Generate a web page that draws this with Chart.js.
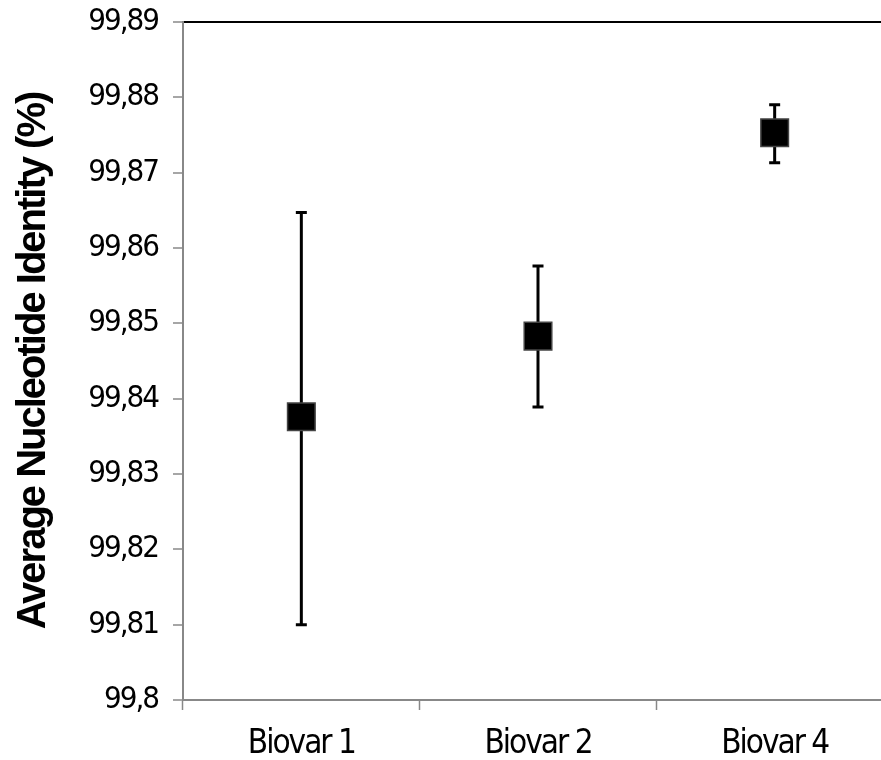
<!DOCTYPE html>
<html>
<head>
<meta charset="utf-8">
<script src="https://cdn.jsdelivr.net/npm/chart.js@4.4.0/dist/chart.umd.min.js"></script>
<style>
  html, body { margin: 0; padding: 0; background: #fff; overflow: hidden; }
</style>
</head>
<body>
<canvas id="myCanvas" width="881" height="760"></canvas>
<script>
const categories = ["Biovar 1", "Biovar 2", "Biovar 4"];
const meanIdentity = [99.8376, 99.8483, 99.8753];
const errorLow = [99.8100, 99.8389, 99.8713];
const errorHigh = [99.8647, 99.8576, 99.8790];
const yTickLabels = ["99,8", "99,81", "99,82", "99,83", "99,84", "99,85", "99,86", "99,87", "99,88", "99,89"];

// tighter text, like the original
const tightText = {
  id: "tightText",
  beforeUpdate(chart) { chart.ctx.letterSpacing = "-2px"; },
  beforeDraw(chart) { chart.ctx.letterSpacing = "-2px"; },
};

// the plot area runs a little past the right edge of the picture
const widerPlot = {
  id: "widerPlot",
  afterLayout(chart) {
    const x = chart.scales.x;
    x.right += 12;
    x.width = x.right - x.left;
    chart.chartArea.right = x.right;
    chart.chartArea.width = x.width;
    x.configure();
  },
};

// error bars, drawn under the markers
const errorBars = {
  id: "errorBars",
  beforeDatasetsDraw(chart) {
    const { ctx, scales } = chart;
    const meta = chart.getDatasetMeta(0);
    ctx.save();
    ctx.strokeStyle = "#000";
    ctx.lineWidth = 3;
    meta.data.forEach((pt, i) => {
      const yTop = scales.y.getPixelForValue(errorHigh[i]);
      const yBot = scales.y.getPixelForValue(errorLow[i]);
      ctx.beginPath();
      ctx.moveTo(pt.x, yTop);
      ctx.lineTo(pt.x, yBot);
      ctx.moveTo(pt.x - 5.5, yTop);
      ctx.lineTo(pt.x + 5.5, yTop);
      ctx.moveTo(pt.x - 5.5, yBot);
      ctx.lineTo(pt.x + 5.5, yBot);
      ctx.stroke();
    });
    ctx.restore();
  },
};

new Chart(document.getElementById("myCanvas"), {
  type: "line",
  data: {
    labels: categories,
    datasets: [
      {
        label: "ANI",
        data: meanIdentity,
        showLine: false,
        pointStyle: "rect",
        pointRadius: 19.5,
        pointHoverRadius: 19.5,
        backgroundColor: "#000",
        borderColor: "#444",
        borderWidth: 1.5,
      },
    ],
  },
  options: {
    responsive: false,
    animation: false,
    layout: { autoPadding: false, padding: { top: 22, right: 0, left: 0, bottom: 0 } },
    plugins: {
      legend: false,
      tooltip: { enabled: false },
    },
    scales: {
      x: {
        offset: true,
        afterFit: (s) => { s.height = 60; },
        border: { color: "#888", width: 2 },
        grid: {
          offset: true,
          drawOnChartArea: false,
          tickLength: 10,
          tickColor: "#888",
          tickWidth: 1.5,
        },
        ticks: {
          color: "#000",
          padding: 15,
          font: { family: "'DejaVu Sans Condensed', 'DejaVu Sans', sans-serif", size: 33 },
        },
      },
      y: {
        min: 99.8,
        max: 99.89,
        afterFit: (s) => { s.width = 183; },
        border: { color: "#888", width: 2 },
        grid: {
          color: (c) => (c.tick && Math.abs(c.tick.value - 99.89) < 1e-6 ? "#000" : "rgba(0,0,0,0)"),
          lineWidth: 2,
          tickLength: 10,
          tickColor: "#888",
          tickWidth: 1.5,
        },
        ticks: {
          stepSize: 0.01,
          color: "#000",
          padding: 15,
          callback: (v, i) => yTickLabels[i],
          font: { family: "'DejaVu Sans Condensed', 'DejaVu Sans', sans-serif", size: 31, lineHeight: 0.4 },
        },
        title: {
          display: true,
          text: "Average Nucleotide Identity (%)",
          color: "#000",
          padding: { top: 10, bottom: 0 },
          font: { family: "'Liberation Sans', Arial, sans-serif", size: 40, weight: "bold" },
        },
      },
    },
  },
  plugins: [tightText, widerPlot, errorBars],
});
</script>
</body>
</html>
